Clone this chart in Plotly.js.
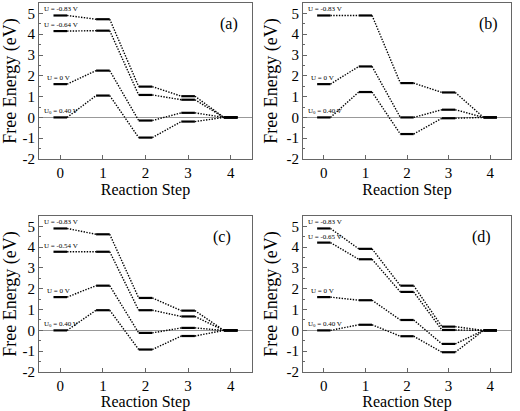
<!DOCTYPE html>
<html>
<head>
<meta charset="utf-8">
<script src="https://cdn.plot.ly/plotly-3.0.1.min.js"></script>
<style>html,body{margin:0;padding:0;background:#fff;}#chart{width:520px;height:411px;}</style>
</head>
<body>
<div id="chart"></div>
<script>
// ---- data ----
const steps = [0, 1, 2, 3, 4];
const panelTags = ['(a)', '(b)', '(c)', '(d)'];
const yTickVals = [-2, -1, 0, 1, 2, 3, 4, 5];
const yTickText = ['-2', '-1', '0', '1', '2', '3', '4', '5'];
const xTickText = ['0', '1', '2', '3', '4'];

// panel (a)
const labelsA = ['U = -0.83 V', 'U = -0.64 V', 'U = 0 V', 'U<sub>0</sub> = 0.40 V'];
const a_m083 = [4.90, 4.72, 1.48, 1.02, 0];
const a_m064 = [4.15, 4.17, 1.08, 0.85, 0];
const a_0 = [1.60, 2.25, -0.15, 0.22, 0];
const a_040 = [0.00, 1.05, -0.97, -0.20, 0];

// panel (b)
const labelsB = ['U = -0.83 V', 'U = 0 V', 'U<sub>0</sub> = 0.40 V'];
const b_m083 = [4.90, 4.90, 1.65, 1.20, 0];
const b_0 = [1.60, 2.45, 0.00, 0.37, 0];
const b_040 = [0.00, 1.22, -0.80, -0.04, 0];

// panel (c)
const labelsC = ['U = -0.83 V', 'U = -0.54 V', 'U = 0 V', 'U<sub>0</sub> = 0.40 V'];
const c_m083 = [4.90, 4.62, 1.56, 0.95, 0];
const c_m054 = [3.78, 3.78, 0.97, 0.67, 0];
const c_0 = [1.60, 2.15, -0.12, 0.12, 0];
const c_040 = [0.00, 0.97, -0.92, -0.27, 0];

// panel (d)
const labelsD = ['U = -0.83 V', 'U = -0.65 V', 'U = 0 V', 'U<sub>0</sub> = 0.40 V'];
const d_m083 = [4.90, 3.92, 2.15, 0.18, 0];
const d_m065 = [4.22, 3.42, 1.85, 0.02, 0];
const d_0 = [1.60, 1.45, 0.50, -0.65, 0];
const d_040 = [0.00, 0.27, -0.28, -1.05, 0];

// ---- build ----
const panels = [
  {series: [a_m083, a_m064, a_0, a_040], labels: labelsA, tagX: 3.95},
  {series: [b_m083, b_0, b_040], labels: labelsB, tagX: 3.95},
  {series: [c_m083, c_m054, c_0, c_040], labels: labelsC, tagX: 3.8},
  {series: [d_m083, d_m065, d_0, d_040], labels: labelsD, tagX: 3.8}
];

const HW = 0.16; // half width of level bars
const serif = 'Liberation Serif';
const frame = '#666';
const traces = [];
const annotations = [];
const layout = {
  width: 520, height: 411,
  margin: {l: 0, r: 0, t: 0, b: 0},
  paper_bgcolor: '#fff', plot_bgcolor: '#fff',
  showlegend: false,
  font: {family: serif, color: '#000'}
};
const xDomains = [[0.075, 0.4846], [0.5827, 0.9827]];
const yDomains = [[0.6131, 0.9927], [0.0949, 0.4745]];

panels.forEach((p, i) => {
  const k = i === 0 ? '' : String(i + 1);
  const xa = 'x' + k, ya = 'y' + k;
  const col = i % 2, row = Math.floor(i / 2);
  layout['xaxis' + k] = {
    domain: xDomains[col], anchor: ya, range: [-0.5, 4.5],
    tickmode: 'array', tickvals: steps, ticktext: xTickText,
    ticks: 'inside', ticklen: 4, tickcolor: frame,
    showline: true, mirror: true, linecolor: frame, linewidth: 1,
    showgrid: false, zeroline: false,
    tickfont: {family: serif, size: 15, color: '#000'},
    title: {text: 'Reaction Step', font: {family: serif, size: 16, color: '#000'}, standoff: 3}
  };
  layout['yaxis' + k] = {
    domain: yDomains[row], anchor: xa, range: [-2, 5.5],
    tickmode: 'array', tickvals: yTickVals, ticktext: yTickText,
    ticks: 'inside', ticklen: 4, tickcolor: frame,
    minor: {tickmode: 'linear', tick0: 0, dtick: 0.5, ticks: 'inside', ticklen: 2, tickcolor: frame, showgrid: false},
    showline: true, mirror: true, linecolor: frame, linewidth: 1,
    showgrid: false, zeroline: true, zerolinecolor: '#999', zerolinewidth: 1,
    tickfont: {family: serif, size: 15, color: '#000'},
    title: {text: 'Free Energy (eV)', font: {family: serif, size: 18, color: '#000'}, standoff: 4}
  };

  p.series.forEach((vals, j) => {
    const bx = [], by = [], cx = [], cy = [];
    steps.forEach((s, n) => {
      bx.push(s - HW, s + HW, null);
      by.push(vals[n], vals[n], null);
      if (n < steps.length - 1) {
        cx.push(s + HW, steps[n + 1] - HW, null);
        cy.push(vals[n], vals[n + 1], null);
      }
    });
    traces.push({x: cx, y: cy, xaxis: xa, yaxis: ya, mode: 'lines', hoverinfo: 'skip',
      line: {color: '#000', width: 1.4, dash: '1.4px,1.4px'}});
    traces.push({x: bx, y: by, xaxis: xa, yaxis: ya, mode: 'lines', hoverinfo: 'skip',
      line: {color: '#000', width: 2.2}});
    const isZero = p.labels[j] === 'U = 0 V';
    annotations.push({
      xref: xa, yref: ya, x: isZero ? -0.36 : -0.43, y: vals[0],
      xanchor: 'left', yanchor: 'bottom', yshift: 0,
      text: p.labels[j], showarrow: false,
      font: {family: serif, size: 7, color: '#000'}
    });
  });
  annotations.push({
    xref: xa, yref: ya, x: p.tagX, y: 4.5, xanchor: 'center', yanchor: 'middle',
    text: panelTags[i], showarrow: false,
    font: {family: serif, size: 16, color: '#000'}
  });
});
layout.annotations = annotations;

Plotly.newPlot('chart', traces, layout, {staticPlot: true, displayModeBar: false});
</script>
</body>
</html>
